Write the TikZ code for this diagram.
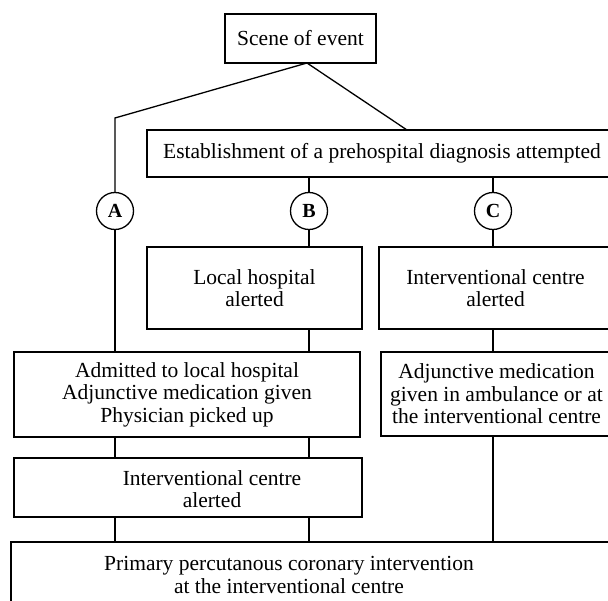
\documentclass[tikz,border=0pt]{standalone}
\usepackage{fontspec}
\setmainfont{Liberation Serif}
\usepackage{tikz}

\tikzset{
  box/.style={draw, line width=1.5pt, inner sep=0pt, align=center},
  letter/.style={draw, circle, line width=1.3pt, minimum size=37pt, inner sep=0pt, font=\fontsize{20}{22}\selectfont\bfseries},
  link/.style={line width=1.3pt}
}

\begin{document}
\begin{tikzpicture}[x=1pt, y=-1pt, font=\fontsize{21.5}{22.5}\selectfont]
\clip (0,0) rectangle (608,601);

\node[box, minimum width=151pt, minimum height=49pt] (scene) at (300.5,38.5) {Scene of event};
\node[box, minimum width=470pt, minimum height=47pt] (est) at (382,153.5) {Establishment of a prehospital diagnosis attempted};

\node[letter] (A) at (115,211) {A};
\node[letter] (B) at (309,211) {B};
\node[letter] (C) at (493,211) {C};

\node[box, minimum width=215pt, minimum height=82pt] (local) at (254.5,288) {Local hospital\\alerted};
\node[box, minimum width=233pt, minimum height=82pt] (icright) at (495.5,288) {Interventional centre\\alerted};
\node[box, minimum width=346pt, minimum height=85pt] (admit) at (187,394.5) {Admitted to local hospital\\Adjunctive medication given\\Physician picked up};
\node[box, minimum width=231pt, minimum height=84pt] (adjunct) at (496.5,394) {Adjunctive medication\\given in ambulance or at\\the interventional centre};
\node[box, minimum width=348pt, minimum height=59pt] (icleft) at (188,487.5) {};
\node[align=center] (iclefttxt) at (212,489) {Interventional centre\\alerted};
\node[box, minimum width=609pt, minimum height=98pt] (pci) at (315.5,591) {};
\node[align=center] (pcitxt) at (289,575) {Primary percutanous coronary intervention\\at the interventional centre};

% from the scene
\coordinate (fork) at (307,63);
\coordinate (bend) at (115,118);
\coordinate (hit) at (407,130);
\draw[link] (fork) -- (bend) -- (A);
\draw[link] (fork) -- (hit);

% the three routes
\draw[link] (B |- est.south) -- (B);
\draw[link] (C |- est.south) -- (C);
\draw[link] (A) -- (A |- admit.north);
\draw[link] (B) -- (B |- local.north);
\draw[link] (C) -- (C |- icright.north);
\draw[link] (B |- local.south) -- (B |- admit.north);
\draw[link] (C |- icright.south) -- (C |- adjunct.north);

% down to the centre
\draw[link] (A |- admit.south) -- (A |- icleft.north);
\draw[link] (B |- admit.south) -- (B |- icleft.north);
\draw[link] (A |- icleft.south) -- (A |- pci.north);
\draw[link] (B |- icleft.south) -- (B |- pci.north);
\draw[link] (C |- adjunct.south) -- (C |- pci.north);
\end{tikzpicture}
\end{document}
